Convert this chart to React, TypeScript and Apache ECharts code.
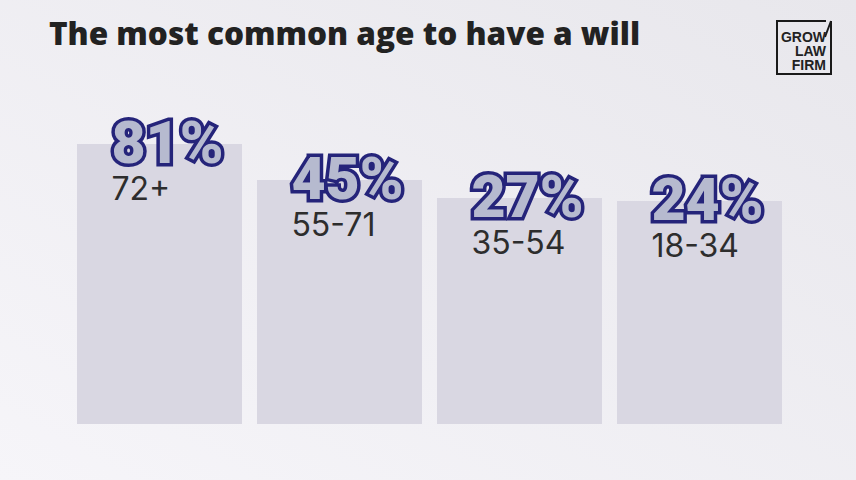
import React, { useEffect, useRef } from "react";
import * as echarts from "echarts";

const CATEGORIES = ["72+", "55-71", "35-54", "18-34"];
const VALUES = [81, 45, 27, 24];
// visual base added under every bar in the original design (bars are not drawn from zero)
const BAR_BASE = 199;
const TITLE = "The most common age to have a will";
const LOGO_LINES = ["GROW", "LAW", "FIRM"];

export default function App() {
  const ref = useRef<HTMLDivElement>(null);
  useEffect(() => {
    document.body.style.margin = "0";
    const chart = echarts.init(ref.current!, null, { renderer: "svg" });
    const logoText = LOGO_LINES.map((t, i) => ({
      type: "text",
      right: 30,
      top: 30 + i * 14,
      style: {
        text: t,
        fontFamily: "Liberation Sans",
        fontWeight: "bold",
        fontSize: 14,
        fill: "#222222",
        textAlign: "right",
      },
    }));
    chart.setOption({
      animation: false,
      backgroundColor: new echarts.graphic.LinearGradient(0, 1, 1, 0, [
        { offset: 0, color: "#f6f5f9" },
        { offset: 1, color: "#e8e7ec" },
      ]),
      title: {
        text: TITLE,
        left: 44,
        top: 11,
        textStyle: {
          fontFamily: "Open Sans",
          fontWeight: 800,
          fontSize: 31.5,
          color: "#222222",
        },
      },
      graphic: [
        {
          type: "polyline",
          shape: { points: [[826, 21], [777, 21], [777, 74], [831, 74], [831, 21]] },
          style: { stroke: "#1a1a1a", lineWidth: 2, fill: "none" },
        },
        {
          type: "line",
          shape: { x1: 825, y1: 37, x2: 831, y2: 21 },
          style: { stroke: "#1a1a1a", lineWidth: 2 },
        },
        ...logoText,
      ],
      grid: { left: 69.5, right: 66.5, top: 124, bottom: 56 },
      xAxis: {
        type: "category",
        data: CATEGORIES,
        show: false,
      },
      yAxis: {
        type: "value",
        min: 0,
        max: 300,
        show: false,
      },
      series: [
        {
          type: "bar",
          stack: "s",
          barWidth: 165,
          data: CATEGORIES.map(() => BAR_BASE),
          itemStyle: { color: "#d9d7e2" },
          silent: true,
        },
        {
          type: "bar",
          stack: "s",
          barWidth: 165,
          data: VALUES,
          itemStyle: { color: "#d9d7e2" },
          label: {
            show: true,
            position: "insideTop",
            distance: 0,
            offset: [8, -32],
            formatter: (p: any) => `{v|${p.value}%}\n{c|${CATEGORIES[p.dataIndex]}}`,
            rich: {
              v: {
                fontFamily: "Roboto",
                fontWeight: 900,
                fontSize: 59,
                lineHeight: 60,
                color: "#b6bacf",
                textBorderColor: "#25247a",
                textBorderWidth: 7,
                align: "left",
              },
              c: {
                fontFamily: "Inter",
                fontWeight: 400,
                fontSize: 32,
                lineHeight: 32,
                color: "#2d2d2d",
                align: "left",
              },
            },
          },
        },
      ],
    });
    return () => chart.dispose();
  }, []);
  return <div ref={ref} style={{ width: 856, height: 480 }} />;
}
